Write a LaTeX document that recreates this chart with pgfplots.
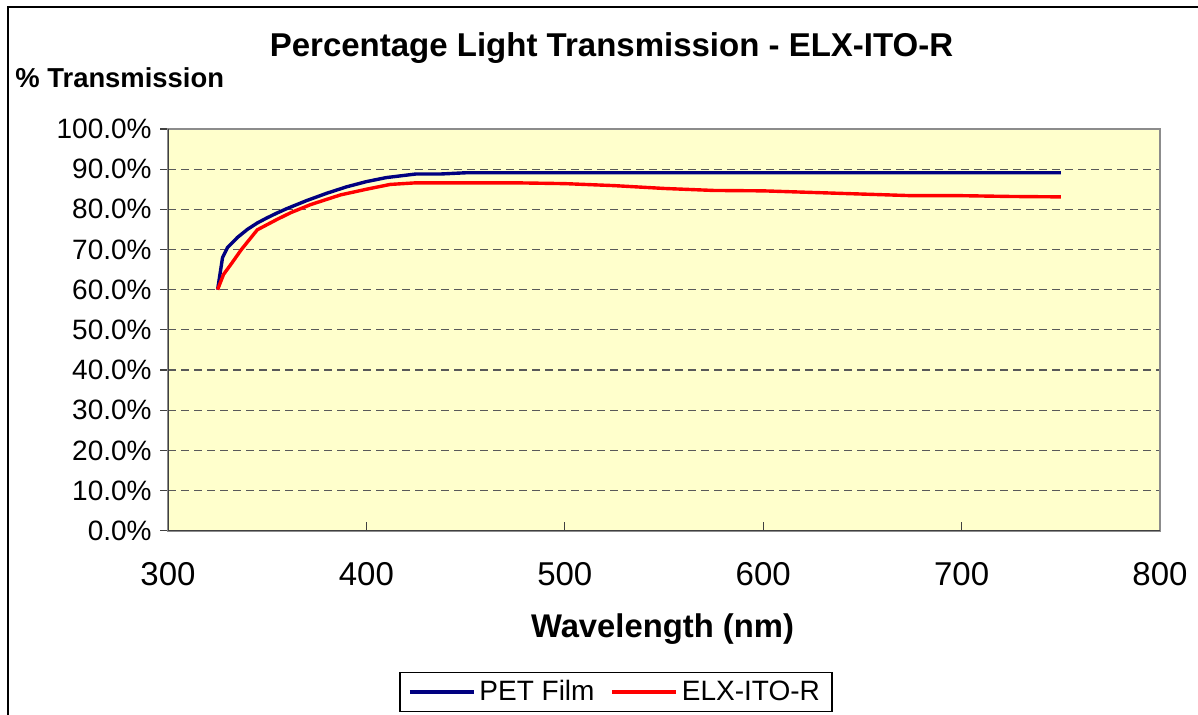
\documentclass[border=0pt]{standalone}
\usepackage{pgfplots}
\pgfplotsset{compat=1.18}
\usepackage{fontspec}
\setmainfont{Liberation Sans}
\definecolor{plotbg}{HTML}{FFFFCC}
\definecolor{petblue}{HTML}{000080}
\definecolor{elxred}{HTML}{FF0000}
\begin{document}
\begin{tikzpicture}
\path[use as bounding box] (0pt,0pt) rectangle (599pt,-357.5pt);
\draw[line width=1.2pt, black] (4pt,-400pt) -- (4pt,-3.5pt) -- (620pt,-3.5pt);
\begin{axis}[
  at={(84pt,-265.35pt)}, anchor=south west,
  scale only axis, width=496pt, height=200.85pt,
  xmin=300, xmax=800, ymin=0, ymax=100,
  xtick={300,400,500,600,700,800},
  ytick={0,10,...,100},
  yticklabel={\pgfmathprintnumber[fixed,fixed zerofill,precision=1]{\tick}\%},
  /pgf/number format/assume math mode=true,
  xticklabel style={anchor=base, yshift=-23.15pt, font=\fontsize{16.5}{18}\selectfont},
  yticklabel style={anchor=east, inner xsep=0pt, xshift=-4pt, font=\fontsize{14}{16}\selectfont},
  tick pos=left,
  tick align=outside,
  major tick length=4pt,
  xtick style={yshift=4.5pt, black!75, line width=0.6pt},
  ytick style={black!75, line width=0.6pt},
  axis background/.style={fill=plotbg},
  axis line style={draw=black!45, line width=0.8pt},
  ymajorgrids,
  major grid style={dash pattern=on 4pt off 2.5pt, black!65, line width=0.6pt},
  legend style={at={(0.4516,-0.4016)}, anchor=center, draw=black, line width=0.6pt,
    legend columns=2, font=\fontsize{14}{16}\selectfont,
    inner xsep=4pt,
    /tikz/every even column/.append style={column sep=6pt}},
  legend image code/.code={\draw[#1] (0pt,0pt) -- (32pt,0pt);},
]
\addplot[petblue, line width=1.7pt] coordinates {
(325,60.0) (327.5,68.0) (330,70.5) (335,73.0) (340,75.0) (345,76.6) (350,77.9)
(355,79.1) (360,80.2) (370,82.2) (380,84.0) (390,85.6) (400,86.9) (410,87.9)
(420,88.5) (425,88.8) (437.5,88.8) (450,89.1) (475,89.1) (500,89.1) (600,89.1)
(700,89.1) (750,89.1)};
\addlegendentry{PET Film}
\addplot[elxred, line width=1.7pt] coordinates {
(325,60.0) (328,63.8) (332,66.5) (337,70.0) (345,74.9) (350,76.2) (355,77.5)
(362,79.2) (372,81.2) (387,83.6) (400,85.0) (412,86.2) (425,86.6) (450,86.6)
(475,86.6) (500,86.4) (525,85.9) (550,85.2) (575,84.7) (600,84.6) (625,84.2)
(650,83.8) (675,83.4) (700,83.4) (725,83.2) (750,83.1)};
\addlegendentry{ELX-ITO-R}
\draw[black!75, line width=0.8pt] (rel axis cs:0,1) -- (rel axis cs:0,0) -- (rel axis cs:1,0);
\end{axis}
\node[anchor=base, inner sep=0pt, font=\bfseries\fontsize{16.5}{18}\selectfont] at (305.75pt,-28.5pt) {Percentage Light Transmission - ELX-ITO-R};
\node[anchor=base west, inner sep=0pt, font=\bfseries\fontsize{13.7}{16}\selectfont] at (7.5pt,-44pt) {\% Transmission};
\node[anchor=base, inner sep=0pt, font=\bfseries\fontsize{16.4}{18}\selectfont] at (331.25pt,-318.5pt) {Wavelength (nm)};
\end{tikzpicture}
\end{document}
